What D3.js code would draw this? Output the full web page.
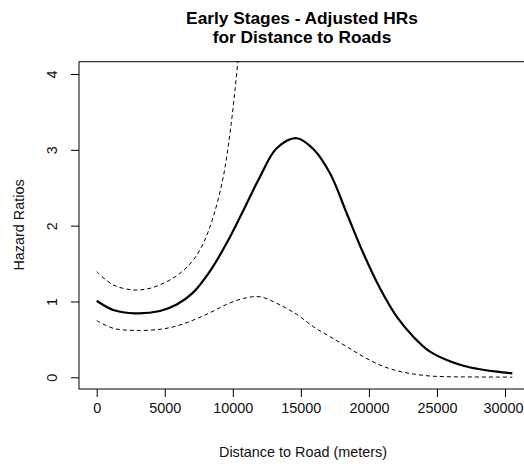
<!DOCTYPE html>
<html>
<head>
<meta charset="utf-8">
<script src="https://cdn.jsdelivr.net/npm/d3@7"></script>
<style>
  html, body { margin: 0; padding: 0; background: #fff; }
  svg { display: block; font-family: "Liberation Sans", Arial, sans-serif; }
</style>
</head>
<body>
<svg id="chart" width="524" height="466"></svg>
<script>
// Adjusted hazard ratio spline for distance to roads, with 95% confidence bounds
const distance = [0, 1222, 2814, 4651, 5878, 7100, 8325, 9552, 10772, 12000, 13226, 14695,
  15914, 17141, 18369, 19590, 20815, 22043, 23262, 24490, 25716, 26937, 28163, 29390, 30537];
const hrFit = [1.01, 0.888, 0.844, 0.875, 0.96, 1.12, 1.40, 1.77, 2.20, 2.646, 3.02, 3.153,
  3.01, 2.69, 2.164, 1.636, 1.174, 0.80, 0.536, 0.338, 0.228, 0.153, 0.106, 0.074, 0.053];
const hrLower = [0.747, 0.646, 0.618, 0.633, 0.677, 0.755, 0.852, 0.962, 1.040, 1.062, 0.976, 0.83,
  0.668, 0.536, 0.404, 0.272, 0.162, 0.087, 0.044, 0.017, 0.008, 0.005, 0.004, 0.003, 0.002];
const upperDistance = [0, 1222, 2692, 3916, 5143, 6120, 7100, 7834, 8568, 9302, 9794, 10161, 10500];
const hrUpper = [1.393, 1.218, 1.152, 1.174, 1.261, 1.372, 1.547, 1.768, 2.119, 2.646, 3.219, 3.79, 4.4];

const xTicks = [0, 5000, 10000, 15000, 20000, 25000, 30000];
const yTicks = [0, 1, 2, 3, 4];

const svg = d3.select("#chart");
const box = { left: 79, top: 61.7, right: 528, bottom: 389 };
const FONT = "Liberation Sans, Arial, sans-serif";

const x = d3.scaleLinear().domain([0, 30000]).range([96.7, 505]);
const y = d3.scaleLinear().domain([0, 4]).range([377.3, 74]);

// clip region for the curves
svg.append("clipPath").attr("id", "plotclip")
  .append("rect")
  .attr("x", box.left).attr("y", box.top)
  .attr("width", box.right - box.left).attr("height", box.bottom - box.top);

const line = d3.line().curve(d3.curveCatmullRom.alpha(0.5));
const plot = svg.append("g").attr("clip-path", "url(#plotclip)");

plot.append("path")
  .attr("d", line(upperDistance.map((d, i) => [x(d), y(hrUpper[i])])))
  .attr("fill", "none").attr("stroke", "#000").attr("stroke-width", 1)
  .attr("stroke-dasharray", "4,3");

plot.append("path")
  .attr("d", line(distance.map((d, i) => [x(d), y(hrLower[i])])))
  .attr("fill", "none").attr("stroke", "#000").attr("stroke-width", 1)
  .attr("stroke-dasharray", "4,3");

plot.append("path")
  .attr("d", line(distance.map((d, i) => [x(d), y(hrFit[i])])))
  .attr("fill", "none").attr("stroke", "#000").attr("stroke-width", 2.2);

// frame
svg.append("rect")
  .attr("x", box.left).attr("y", box.top)
  .attr("width", box.right - box.left).attr("height", box.bottom - box.top)
  .attr("fill", "none").attr("stroke", "#000").attr("stroke-width", 1);

// x axis
const xAxis = svg.append("g").attr("transform", `translate(0,${box.bottom})`)
  .call(d3.axisBottom(x).tickValues(xTicks).tickSize(8).tickPadding(6).tickFormat(d3.format("d")));
xAxis.select(".domain").remove();
xAxis.selectAll("text").attr("font-size", 14.4).attr("fill", "#111").attr("font-family", FONT);
// keep the last label inside the page edge
xAxis.selectAll(".tick").filter(d => d === xTicks[xTicks.length - 1]).select("text")
  .attr("text-anchor", "end").attr("x", 523 - x(xTicks[xTicks.length - 1]));

// y axis with rotated labels
const yAxis = svg.append("g").attr("transform", `translate(${box.left},0)`)
  .call(d3.axisLeft(y).tickValues(yTicks).tickSize(8).tickFormat(d3.format("d")));
yAxis.select(".domain").remove();
yAxis.selectAll(".tick text")
  .attr("x", 0).attr("dy", null)
  .attr("transform", "translate(-27,0) rotate(-90)")
  .attr("text-anchor", "middle")
  .attr("dominant-baseline", "central")
  .attr("font-size", 14.4).attr("fill", "#111").attr("font-family", FONT);

// titles
const title = svg.append("text").attr("text-anchor", "middle")
  .attr("font-size", 17.3).attr("font-weight", "bold").attr("fill", "#000");
title.append("tspan").attr("x", 302).attr("y", 24).text("Early Stages - Adjusted HRs");
title.append("tspan").attr("x", 302).attr("y", 43).text("for Distance to Roads");

svg.append("text").attr("x", 303).attr("y", 457).attr("text-anchor", "middle")
  .attr("font-size", 14.4).attr("fill", "#111").text("Distance to Road (meters)");

svg.append("text").attr("transform", "translate(24,225) rotate(-90)")
  .attr("text-anchor", "middle").attr("font-size", 14.4).attr("fill", "#111")
  .text("Hazard Ratios");
</script>
</body>
</html>
